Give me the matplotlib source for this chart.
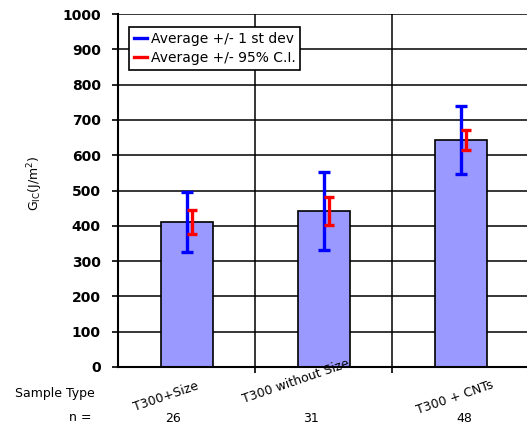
import numpy as np
import matplotlib
matplotlib.use("Agg")
import matplotlib.pyplot as plt
import matplotlib.transforms as mtransforms
from matplotlib.lines import Line2D

# dane
kategorie = ["T300+Size", "T300 without Size", "T300 + CNTs"]
liczby_n = ["26", "31", "48"]
srednie = [411, 442, 643]
odch_std = [85, 111, 95]
przedz_ufn = [34, 41, 27]

plt.rcParams['font.family'] = ['DejaVu Sans']

fig = plt.figure(figsize=(5.27, 4.26), dpi=100)
ax = fig.add_axes([0.224, 0.1385, 0.78, 0.8286])

x = np.arange(len(kategorie))

ax.bar(x, srednie, width=0.38, color='#9999ff', edgecolor='black', linewidth=1.2, zorder=2)

# slupki bledow
ax.errorbar(x, srednie, yerr=odch_std, fmt='none', ecolor='#0000ff', elinewidth=2.4,
            capsize=4.5, capthick=2.4, zorder=3)
ax.errorbar(x + 0.04, srednie, yerr=przedz_ufn, fmt='none', ecolor='#ff0000', elinewidth=2.4,
            capsize=3.5, capthick=2.4, zorder=4)

ax.set_xlim(-0.5, 2.5)
ax.set_ylim(0, 1000)
ax.set_yticks(np.arange(0, 1001, 100))
ax.set_yticklabels([str(v) for v in range(0, 1001, 100)], fontsize=10, fontweight='bold')

ax.set_xticks([0.5, 1.5])
ax.set_xticklabels([])
ax.tick_params(axis='x', direction='out', length=4, width=1.2)
ax.tick_params(axis='y', direction='out', length=4.5, width=1.2, pad=8)

ax.set_axisbelow(True)
ax.grid(True, axis='both', color='black', linewidth=1.1)

for s in ['top', 'right']:
    ax.spines[s].set_visible(False)
ax.spines['left'].set_linewidth(1.5)
ax.spines['bottom'].set_linewidth(1.5)

ax.set_ylabel(r'$\mathrm{G_{IC}}$(J/m$^2$)', fontsize=9)
ax.yaxis.set_label_coords(-0.178, 0.52)

# etykiety kategorii (obrocone) i liczebnosci
tr = mtransforms.blended_transform_factory(ax.transData, ax.transAxes)
przes_etykiet = [-0.15, -0.2, -0.04]
wys_etykiet = [-0.085, -0.04, -0.088]
przes_n = [-0.1, -0.09, 0.03]
for i, k in enumerate(kategorie):
    ax.text(x[i] + przes_etykiet[i], wys_etykiet[i], k, transform=tr, rotation=19,
            ha='center', va='center', fontsize=9, rotation_mode='anchor')
    ax.text(x[i] + przes_n[i], -0.145, liczby_n[i], transform=tr,
            ha='center', va='center', fontsize=9)

fig.text(0.028, 0.077, "Sample Type", fontsize=9, ha='left', va='center')
fig.text(0.13, 0.02, "n =", fontsize=9, ha='left', va='center')

uchwyty = [Line2D([], [], color='#0000ff', lw=2.4),
           Line2D([], [], color='#ff0000', lw=2.4)]
leg = ax.legend(uchwyty, ['Average +/- 1 st dev', 'Average +/- 95% C.I.'],
                loc='upper left', bbox_to_anchor=(0.027, 0.963), borderaxespad=0,
                fancybox=False, framealpha=1, edgecolor='black', fontsize=10,
                handlelength=0.9, handletextpad=0.3, borderpad=0.35, labelspacing=0.35)
leg.get_frame().set_linewidth(1.2)

fig.savefig("out.png", dpi=100)
